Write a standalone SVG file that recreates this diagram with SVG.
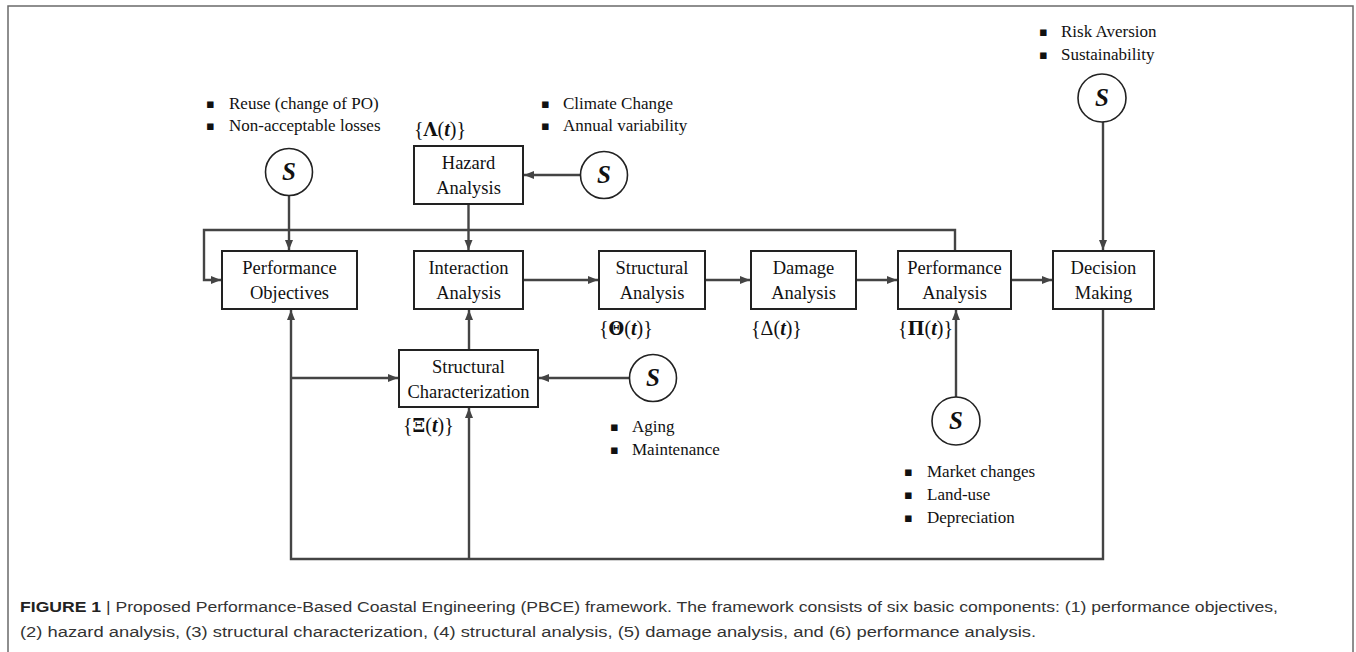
<svg xmlns="http://www.w3.org/2000/svg" width="1356" height="652" viewBox="0 0 1356 652">
<style>
.frame{fill:none;stroke:#6a6a6a;stroke-width:1.5}
.box{fill:#fff;stroke:#222;stroke-width:2}
.circ{fill:#fff;stroke:#222;stroke-width:1.6}
.bt{font-family:"Liberation Serif",serif;font-size:18.5px;fill:#111;text-anchor:middle}
.s{font-family:"Liberation Serif",serif;font-size:25px;font-weight:bold;font-style:italic;fill:#111;text-anchor:middle}
.li{font-family:"Liberation Serif",serif;font-size:17px;fill:#111}
.bul{font-family:"DejaVu Sans",sans-serif;font-size:13px;fill:#111}
.m{font-family:"Liberation Serif",serif;font-size:20px;fill:#111}
.mb{font-family:"DejaVu Serif",serif;font-weight:bold;font-size:18px}
.mt{font-family:"Liberation Serif",serif;font-weight:bold;font-style:italic}
.cap{font-family:"Liberation Sans",sans-serif;font-size:15.5px;fill:#333}
.conn{fill:none;stroke:#444;stroke-width:2.4}
</style>
<defs>
<marker id="ah" markerUnits="userSpaceOnUse" markerWidth="10" markerHeight="10" viewBox="0 0 10 10" refX="10" refY="5" orient="auto">
<path d="M0,1 L10,5 L0,9 Z" fill="#444"/>
</marker>
</defs>
<rect class="frame" x="8" y="6" width="1345" height="660"/>

<g id="connectors">
<polyline class="conn" points="955,251 955,230 204,230 204,280 221,280" marker-end="url(#ah)"/>
<line class="conn" x1="289" y1="196" x2="289" y2="250" marker-end="url(#ah)"/>
<line class="conn" x1="580" y1="175" x2="524" y2="175" marker-end="url(#ah)"/>
<line class="conn" x1="468.5" y1="204" x2="468.5" y2="250" marker-end="url(#ah)"/>
<line class="conn" x1="523" y1="280" x2="598" y2="280" marker-end="url(#ah)"/>
<line class="conn" x1="705" y1="280" x2="750" y2="280" marker-end="url(#ah)"/>
<line class="conn" x1="856" y1="280" x2="897" y2="280" marker-end="url(#ah)"/>
<line class="conn" x1="1011" y1="280" x2="1052" y2="280" marker-end="url(#ah)"/>
<line class="conn" x1="1103" y1="122" x2="1103" y2="250" marker-end="url(#ah)"/>
<polyline class="conn" points="1103,309 1103,559 291,559 291,310" marker-end="url(#ah)"/>
<line class="conn" x1="469" y1="559" x2="469" y2="408" marker-end="url(#ah)"/>
<line class="conn" x1="291" y1="378" x2="398" y2="378" marker-end="url(#ah)"/>
<line class="conn" x1="469" y1="350" x2="469" y2="310" marker-end="url(#ah)"/>
<line class="conn" x1="629" y1="378" x2="539" y2="378" marker-end="url(#ah)"/>
<line class="conn" x1="956" y1="397" x2="956" y2="310" marker-end="url(#ah)"/>
</g>

<g id="performance-objectives">
<rect class="box" x="222" y="251" width="135" height="58"/>
<text class="bt" x="289.5" y="274">Performance</text>
<text class="bt" x="289.5" y="299">Objectives</text>
</g>
<g id="hazard-analysis">
<rect class="box" x="414" y="146" width="109" height="58"/>
<text class="bt" x="468.5" y="169">Hazard</text>
<text class="bt" x="468.5" y="194">Analysis</text>
<text class="m" x="414" y="136">{<tspan class="mb">Λ</tspan>(<tspan class="mt">t</tspan>)}</text>
</g>
<g id="interaction-analysis">
<rect class="box" x="414" y="251" width="109" height="58"/>
<text class="bt" x="468.5" y="274">Interaction</text>
<text class="bt" x="468.5" y="299">Analysis</text>
</g>
<g id="structural-analysis">
<rect class="box" x="599" y="251" width="106" height="58"/>
<text class="bt" x="652" y="274">Structural</text>
<text class="bt" x="652" y="299">Analysis</text>
<text class="m" x="599" y="335">{<tspan class="mb">Θ</tspan>(<tspan class="mt">t</tspan>)}</text>
</g>
<g id="damage-analysis">
<rect class="box" x="751" y="251" width="105" height="58"/>
<text class="bt" x="803.5" y="274">Damage</text>
<text class="bt" x="803.5" y="299">Analysis</text>
<text class="m" x="751" y="335">{Δ(<tspan class="mt">t</tspan>)}</text>
</g>
<g id="performance-analysis">
<rect class="box" x="898" y="251" width="113" height="58"/>
<text class="bt" x="954.5" y="274">Performance</text>
<text class="bt" x="954.5" y="299">Analysis</text>
<text class="m" x="898" y="335">{<tspan class="mb">Π</tspan>(<tspan class="mt">t</tspan>)}</text>
</g>
<g id="decision-making">
<rect class="box" x="1053" y="251" width="101" height="58"/>
<text class="bt" x="1103.5" y="274">Decision</text>
<text class="bt" x="1103.5" y="299">Making</text>
</g>
<g id="structural-characterization">
<rect class="box" x="399" y="350" width="139" height="57"/>
<text class="bt" x="468.5" y="373">Structural</text>
<text class="bt" x="468.5" y="398">Characterization</text>
<text class="m" x="403" y="432">{<tspan class="mb">Ξ</tspan>(<tspan class="mt">t</tspan>)}</text>
</g>

<g id="s-po">
<circle class="circ" cx="289" cy="172" r="23.5"/>
<text class="s" x="289" y="180">S</text>
<text class="bul" x="206" y="108">▪</text><text class="li" x="229" y="109">Reuse (change of PO)</text>
<text class="bul" x="206" y="130">▪</text><text class="li" x="229" y="131">Non-acceptable losses</text>
</g>
<g id="s-hazard">
<circle class="circ" cx="604" cy="175" r="23.5"/>
<text class="s" x="604" y="183">S</text>
<text class="bul" x="541" y="108">▪</text><text class="li" x="563" y="109">Climate Change</text>
<text class="bul" x="541" y="130">▪</text><text class="li" x="563" y="131">Annual variability</text>
</g>
<g id="s-decision">
<circle class="circ" cx="1102" cy="98" r="24"/>
<text class="s" x="1102" y="106">S</text>
<text class="bul" x="1039" y="36">▪</text><text class="li" x="1061" y="37">Risk Aversion</text>
<text class="bul" x="1039" y="59">▪</text><text class="li" x="1061" y="60">Sustainability</text>
</g>
<g id="s-characterization">
<circle class="circ" cx="653" cy="378" r="23.5"/>
<text class="s" x="653" y="386">S</text>
<text class="bul" x="610" y="431">▪</text><text class="li" x="632" y="432">Aging</text>
<text class="bul" x="610" y="454">▪</text><text class="li" x="632" y="455">Maintenance</text>
</g>
<g id="s-performance">
<circle class="circ" cx="956" cy="421" r="24"/>
<text class="s" x="956" y="429">S</text>
<text class="bul" x="904" y="476">▪</text><text class="li" x="927" y="477">Market changes</text>
<text class="bul" x="904" y="499">▪</text><text class="li" x="927" y="500">Land-use</text>
<text class="bul" x="904" y="522">▪</text><text class="li" x="927" y="523">Depreciation</text>
</g>

<g id="caption">
<text class="cap" x="20" y="612" textLength="1258" lengthAdjust="spacingAndGlyphs"><tspan font-weight="bold" fill="#222">FIGURE 1</tspan> | Proposed Performance-Based Coastal Engineering (PBCE) framework. The framework consists of six basic components: (1) performance objectives,</text>
<text class="cap" x="20" y="637" textLength="1016" lengthAdjust="spacingAndGlyphs">(2) hazard analysis, (3) structural characterization, (4) structural analysis, (5) damage analysis, and (6) performance analysis.</text>
</g>
</svg>
